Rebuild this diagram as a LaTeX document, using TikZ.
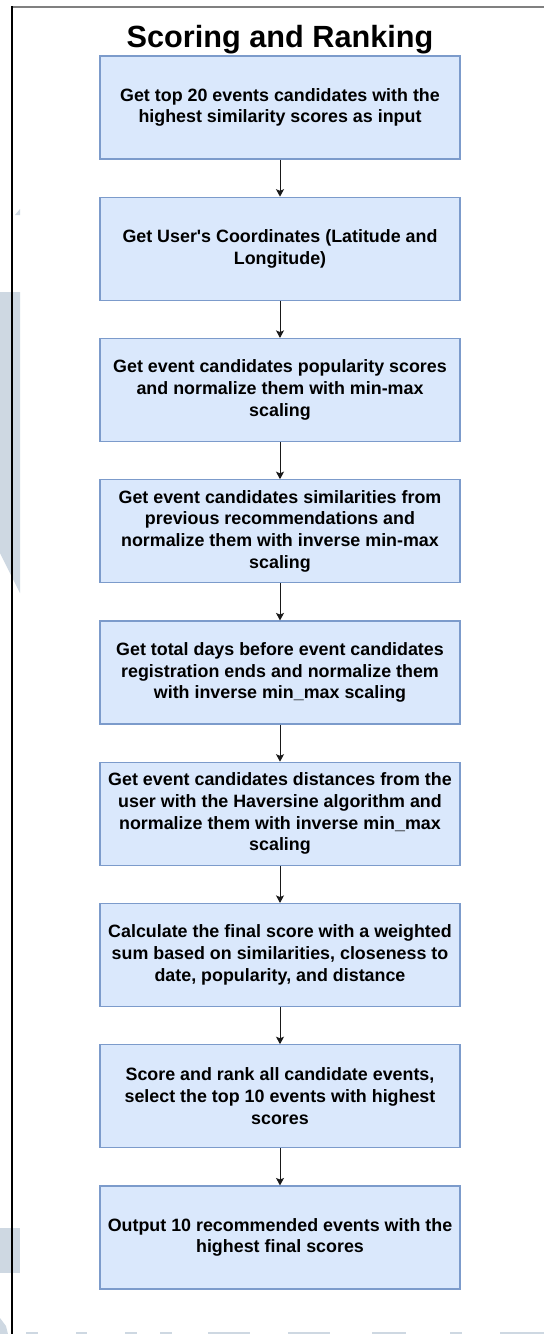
\documentclass[tikz,border=0pt]{standalone}
\usepackage{fontspec}
\setmainfont{Liberation Sans}
\usetikzlibrary{arrows.meta}

\definecolor{boxfill}{HTML}{DAE8FC}
\definecolor{boxline}{HTML}{7C9BCB}
\definecolor{wmark}{RGB}{206,216,226}
\definecolor{frametop}{RGB}{128,128,128}

\tikzset{
  stepbox/.style={draw=boxline, fill=boxfill, line width=0.9pt,
    minimum width=270pt, minimum height=77.25pt, inner sep=0pt,
    align=center, text=black,
    font=\fontsize{13.4}{16.3}\selectfont\bfseries},
  flow/.style={draw=black!90, line width=0.75pt,
    -{Stealth[length=5.6pt,width=6pt,inset=1.2pt]}},
  titletext/.style={font=\fontsize{23}{27}\selectfont\bfseries, anchor=base},
  watermark/.style={fill=wmark, draw=none}
}

\begin{document}
\begin{tikzpicture}[x=0.75pt, y=-0.75pt]
  \useasboundingbox (0,0) rectangle (544,1334);
  \fill[white] (0,0) rectangle (544,1334);

  % faint background marks
  \fill[watermark] (0,292) -- (20,292) -- (20,593) -- (0,553) -- cycle;
  \fill[watermark] (15,215) -- (20,209) -- (20,215) -- cycle;
  \fill[watermark] (0,1228) rectangle (20,1273);
  \fill[watermark] (0,1318) -- (6,1326) -- (8,1334) -- (0,1334) -- cycle;
  \foreach \a/\b in {26/38, 76/87, 125/137, 160/172, 208/250, 288/330,
                     372/406, 450/462, 500/544}
    \fill[watermark] (\a,1332) rectangle (\b,1334);

  % page frame
  \draw[frametop, line width=1.5pt] (11,7) -- (544,7);
  \draw[black, line width=1pt] (12,6.5) -- (12,1334);

  % title
  \node[titletext] (title) at (280,47.5) {Scoring and Ranking};

  % process steps
  \node[stepbox] (b1) at (280,107.5)
    {Get top 20 events candidates with the\\highest similarity scores as input};
  \node[stepbox] (b2) at (280,248.75)
    {Get User\textquotesingle s Coordinates (Latitude and\\Longitude)};
  \node[stepbox] (b3) at (280,390)
    {Get event candidates popularity scores\\and normalize them with min-max\\scaling};
  \node[stepbox] (b4) at (280,531.25)
    {Get event candidates similarities from\\previous recommendations and\\normalize them with inverse min-max\\scaling};
  \node[stepbox] (b5) at (280,672.5)
    {Get total days before event candidates\\registration ends and normalize them\\with inverse min\_max scaling};
  \node[stepbox] (b6) at (280,813.75)
    {Get event candidates distances from the\\user with the Haversine algorithm and\\normalize them with inverse min\_max\\scaling};
  \node[stepbox] (b7) at (280,955)
    {Calculate the final score with a weighted\\sum based on similarities, closeness to\\date, popularity, and distance};
  \node[stepbox] (b8) at (280,1096.25)
    {Score and rank all candidate events,\\select the top 10 events with highest\\scores};
  \node[stepbox] (b9) at (280,1237.5)
    {Output 10 recommended events with the\\highest final scores};

  % connectors
  \foreach \u/\v in {b1/b2, b2/b3, b3/b4, b4/b5, b5/b6, b6/b7, b7/b8, b8/b9}
    \draw[flow] (\u.south) -- (\v.north);
\end{tikzpicture}
\end{document}
